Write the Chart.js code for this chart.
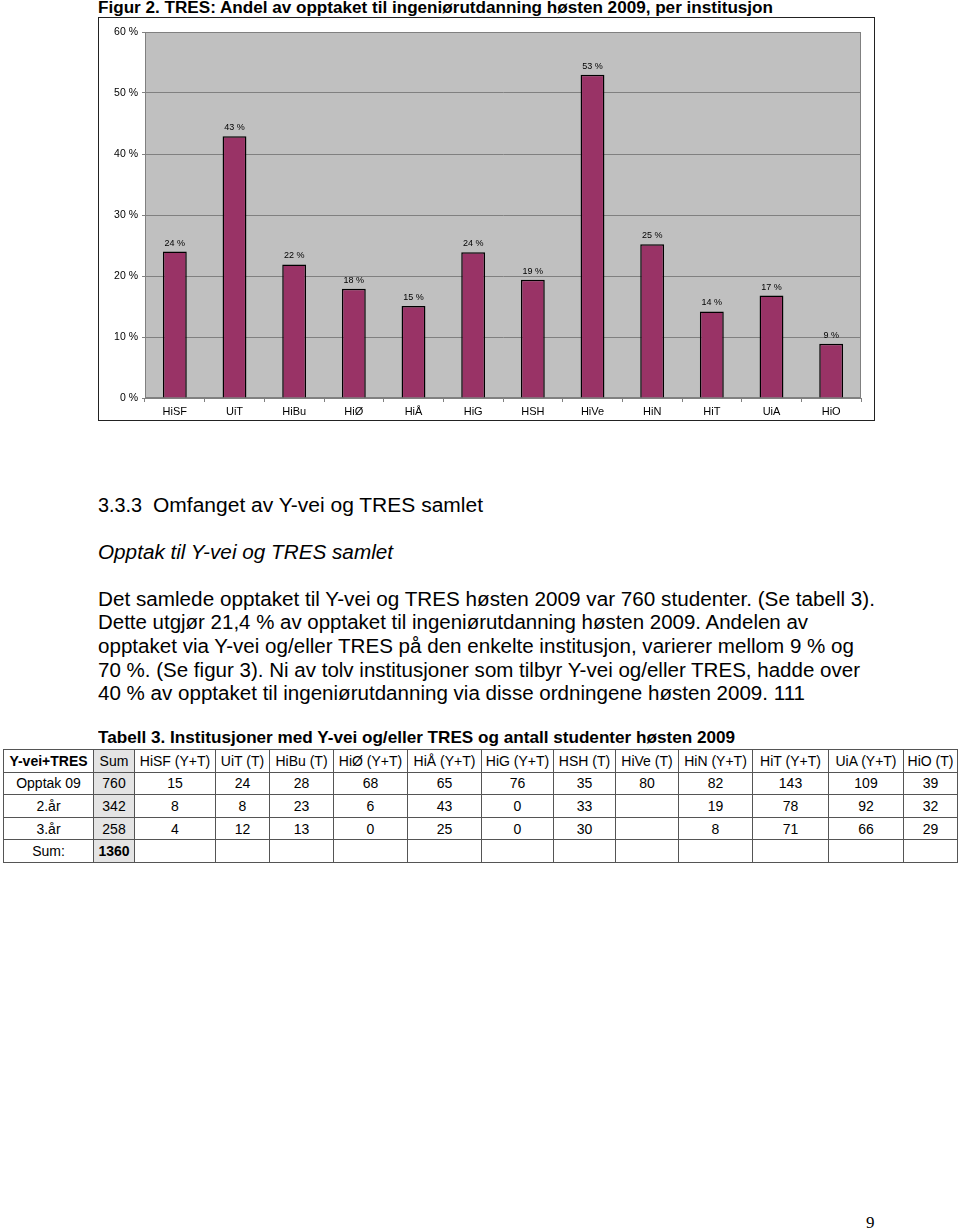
<!DOCTYPE html>
<html>
<head>
<meta charset="utf-8">
<script src="https://cdn.jsdelivr.net/npm/chart.js@4.4.1/dist/chart.umd.min.js"></script>
<style>
  html, body { margin: 0; padding: 0; background: #fff; }
  body { width: 960px; height: 1229px; position: relative; overflow: hidden;
         font-family: "Liberation Sans", Arial, sans-serif; color: #000; }
  .t { position: absolute; white-space: nowrap; transform-origin: 0 0; }
  .body { font-size: 20px; line-height: 22px; }
  #box { position: absolute; left: 98px; top: 17px; width: 777px; height: 404px;
         border: 1px solid #222; box-sizing: border-box; }
  #box canvas { position: absolute; left: 0; top: 0; }
  table { position: absolute; left: 3px; top: 749px; border-collapse: collapse;
          table-layout: fixed; font-size: 14px; }
  td { border: 1px solid #555; height: 21.6px; padding: 0; text-align: center; }
  td.sum { background: #e4e4e4; }
</style>
</head>
<body>

<div class="t" id="title" style="left:98px;top:-1px;font-size:16px;line-height:18px;font-weight:bold" data-w="675">Figur 2. TRES: Andel av opptaket til ingeniørutdanning høsten 2009, per institusjon</div>

<div id="box"><canvas id="chart" width="775" height="402"></canvas></div>

<div class="t body" style="left:98px;top:494px" data-w="44">3.3.3</div>
<div class="t body" style="left:153px;top:494px" data-w="330">Omfanget av Y-vei og TRES samlet</div>
<div class="t body" style="left:98px;top:541px;font-style:italic" data-w="295">Opptak til Y-vei og TRES samlet</div>
<div class="t body" style="left:98px;top:588px" data-w="777">Det samlede opptaket til Y-vei og TRES høsten 2009 var 760 studenter. (Se tabell 3).</div>
<div class="t body" style="left:98px;top:611px" data-w="710">Dette utgjør 21,4 % av opptaket til ingeniørutdanning høsten 2009. Andelen av</div>
<div class="t body" style="left:98px;top:635px" data-w="756">opptaket via Y-vei og/eller TRES på den enkelte institusjon, varierer mellom 9 % og</div>
<div class="t body" style="left:98px;top:659px" data-w="762">70 %. (Se figur 3). Ni av tolv institusjoner som tilbyr Y-vei og/eller TRES, hadde over</div>
<div class="t body" style="left:98px;top:682px" data-w="707">40 % av opptaket til ingeniørutdanning via disse ordningene høsten 2009. 111</div>

<div class="t" id="caption" style="left:98px;top:728px;font-size:17px;line-height:19px;font-weight:bold" data-w="637">Tabell 3. Institusjoner med Y-vei og/eller TRES og antall studenter høsten 2009</div>

<table id="tbl"></table>

<div class="t" style="left:866px;top:1214px;font-family:'Liberation Serif','DejaVu Serif',serif;font-size:17px;line-height:17px">9</div>

<script>
// figure 2: share of engineering intake via TRES, per institution (%)
const institutions = ["HiSF", "UiT", "HiBu", "HiØ", "HiÅ", "HiG", "HSH", "HiVe", "HiN", "HiT", "UiA", "HiO"];
const shares = [24.0, 42.9, 21.9, 17.9, 15.1, 23.9, 19.4, 53.0, 25.2, 14.2, 16.8, 8.9];
const yMax = 60;
const yStep = 10;

// table 3
const tableCols = ["HiSF (Y+T)", "UiT (T)", "HiBu (T)", "HiØ (Y+T)", "HiÅ (Y+T)", "HiG (Y+T)",
  "HSH (T)", "HiVe (T)", "HiN (Y+T)", "HiT (Y+T)", "UiA (Y+T)", "HiO (T)"];
const rowNames = ["Opptak 09", "2.år", "3.år", "Sum:"];
const rowOpptak = [15, 24, 28, 68, 65, 76, 35, 80, 82, 143, 109, 39];
const row2aar = [8, 8, 23, 6, 43, 0, 33, null, 19, 78, 92, 32];
const row3aar = [4, 12, 13, 0, 25, 0, 30, null, 8, 71, 66, 29];
const rowSums = [760, 342, 258, 1360];

// squeeze each text line to the width it has in the scan
document.querySelectorAll(".t[data-w]").forEach((el) => {
  const w = el.getBoundingClientRect().width;
  el.style.transform = "scaleX(" + (+el.dataset.w / w) + ")";
});

// build the table
const colWidths = [90, 41, 81, 54, 64, 74, 74, 72, 62, 63, 74, 76, 75, 54];
const tbl = document.getElementById("tbl");
const cg = document.createElement("colgroup");
colWidths.forEach((w) => {
  const c = document.createElement("col");
  c.style.width = w + "px";
  cg.appendChild(c);
});
tbl.appendChild(cg);
tbl.style.width = colWidths.reduce((a, b) => a + b, 0) + "px";

function addRow(cells) {
  const tr = document.createElement("tr");
  cells.forEach((v, i) => {
    const td = document.createElement("td");
    td.textContent = v === null || v === undefined ? "" : v;
    if (i === 1) td.className = "sum";
    tr.appendChild(td);
  });
  tbl.appendChild(tr);
  return tr;
}
const head = addRow(["Y-vei+TRES", "Sum"].concat(tableCols));
head.children[0].style.fontWeight = "bold";
addRow([rowNames[0], rowSums[0]].concat(rowOpptak));
addRow([rowNames[1], rowSums[1]].concat(row2aar));
addRow([rowNames[2], rowSums[2]].concat(row3aar));
const last = addRow([rowNames[3], rowSums[3]].concat(tableCols.map(() => "")));
last.children[1].style.fontWeight = "bold";

// grey plot area with a thin frame
const plotBg = {
  id: "plotBg",
  beforeDraw(chart) {
    const { ctx, chartArea: a } = chart;
    ctx.save();
    ctx.fillStyle = "#c0c0c0";
    ctx.fillRect(a.left, a.top, a.right - a.left, a.bottom - a.top);
    ctx.strokeStyle = "#808080";
    ctx.lineWidth = 1;
    ctx.strokeRect(a.left + 0.5, a.top + 0.5, a.right - a.left - 1, a.bottom - a.top - 1);
    ctx.restore();
  },
};

// value labels above bars
const barLabels = {
  id: "barLabels",
  afterDatasetsDraw(chart) {
    const ctx = chart.ctx;
    const meta = chart.getDatasetMeta(0);
    ctx.save();
    ctx.font = '9px "Liberation Sans", Arial, sans-serif';
    ctx.fillStyle = "#000";
    ctx.textAlign = "center";
    ctx.textBaseline = "bottom";
    meta.data.forEach((bar, i) => {
      ctx.fillText(Math.round(shares[i]) + " %", bar.x, bar.y - 4);
    });
    ctx.restore();
  },
};

new Chart(document.getElementById("chart"), {
  type: "bar",
  data: {
    labels: institutions,
    datasets: [
      {
        data: shares,
        backgroundColor: "#993366",
        borderColor: "#000",
        borderWidth: 1.5,
        barPercentage: 0.4,
        categoryPercentage: 1,
      },
    ],
  },
  options: {
    responsive: false,
    animation: false,
    devicePixelRatio: 1,
    layout: { padding: { top: 14, right: 13, left: 0, bottom: 0 } },
    plugins: { legend: { display: false }, tooltip: { enabled: false } },
    scales: {
      x: {
        afterFit: (s) => { s.height = 22; },
        grid: { drawOnChartArea: false, drawTicks: true, tickLength: 4, color: "#808080", offset: true },
        border: { display: true, color: "#808080" },
        ticks: { color: "#000", padding: 3, font: { family: '"Liberation Sans", Arial, sans-serif', size: 11 } },
      },
      y: {
        min: 0,
        max: yMax,
        afterFit: (s) => { s.width = 46; },
        grid: { color: "#808080", tickLength: 3 },
        border: { display: true, color: "#808080" },
        ticks: {
          stepSize: yStep,
          padding: 4,
          color: "#000",
          font: { family: '"Liberation Sans", Arial, sans-serif', size: 10.5 },
          callback: (v) => v + " %",
        },
      },
    },
  },
  plugins: [plotBg, barLabels],
});
</script>
</body>
</html>
